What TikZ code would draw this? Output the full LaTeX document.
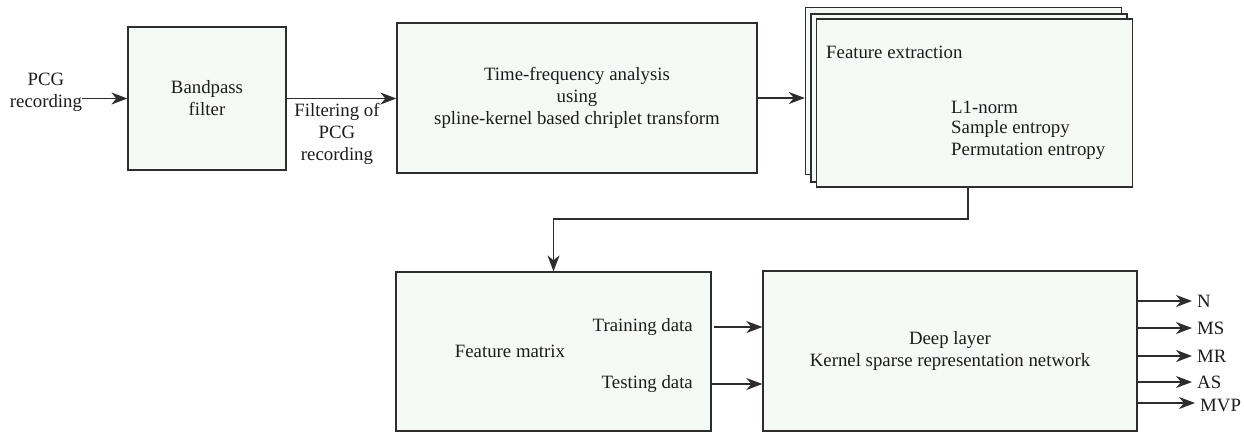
\documentclass[tikz,border=0pt]{standalone}
\usepackage{fontspec}
\setmainfont{Liberation Serif}
\usetikzlibrary{arrows.meta}
\definecolor{boxfill}{RGB}{246,250,247}
\definecolor{boxline}{RGB}{45,45,45}
\definecolor{inktext}{RGB}{28,28,28}
\tikzset{
  blockbox/.style={draw=boxline, fill=boxfill, line width=1.3pt, inner sep=0pt,
    align=center, text=inktext},
  lbl/.style={inner sep=0pt, align=center, text=inktext},
  arr/.style={-{Stealth[length=16pt,width=12pt,inset=5pt]}, line width=1.3pt, draw=boxline},
  link/.style={line width=1.3pt, draw=boxline}
}
\begin{document}
\begin{tikzpicture}[x=1pt, y=-1pt, font=\fontsize{18.8}{22}\selectfont]
    \useasboundingbox (0,0) rectangle (1244,432);

    % first row
    \node[lbl] (pcg) at (46,92) {PCG\\recording};
    \node[blockbox, minimum width=158pt, minimum height=143pt] (bpf) at (207,98.5) {Bandpass\\filter};
    \node[blockbox, minimum width=360pt, minimum height=150pt] (tfa) at (577,98)
        {Time-frequency analysis\\using\\spline-kernel based chriplet transform};
    \node[lbl] (filt) at (337,134) {Filtering of\\PCG\\recording};

    % stacked feature extraction boxes
    \node[blockbox, minimum width=316pt, minimum height=167pt] (fextb) at (963.5,91) {};
    \node[blockbox, minimum width=316pt, minimum height=168pt] (fextm) at (969,98) {};
    \node[blockbox, minimum width=316pt, minimum height=168pt] (fext) at (974.5,103) {};
    \node[lbl, anchor=west] (fexttitle) at (826,52) {Feature extraction};
    \node[lbl, anchor=west] (l1) at (951,107) {L1-norm};
    \node[lbl, anchor=west] (sampen) at (951,129) {Sample entropy};
    \node[lbl, anchor=west] (permen) at (951,151) {Permutation entropy};

    % second row
    \node[blockbox, minimum width=315pt, minimum height=159pt] (fmat) at (553.5,351.5) {};
    \node[lbl] (fmattitle) at (510,351) {Feature matrix};
    \node[lbl, anchor=east] (train) at (693,327) {Training data};
    \node[lbl, anchor=east] (test) at (693,384) {Testing data};
    \node[blockbox, minimum width=374pt, minimum height=160pt] (deep) at (950,351)
        {Deep layer\\Kernel sparse representation network};

    % class labels
    \node[lbl, anchor=west] (cn) at (1197,301) {N};
    \node[lbl, anchor=west] (cms) at (1197,328) {MS};
    \node[lbl, anchor=west] (cmr) at (1197,356) {MR};
    \node[lbl, anchor=west] (cas) at (1197,382) {AS};
    \node[lbl, anchor=west] (cmvp) at (1200,405) {MVP};

    % connectors
    \draw[arr] (pcg.east |- bpf.west) -- (bpf.west);
    \draw[arr] (bpf.east) -- (bpf.east -| tfa.west);
    \draw[arr] (tfa.east) -- (tfa.east -| fextb.west);
    \coordinate (bend) at (553.5,219);
    \draw[arr] ([xshift=-6.5pt]fext.south) |- (bend) -- (fmat.north);
    \draw[arr] ([xshift=2pt]fmat.east |- train) -- (deep.west |- train);
    \draw[arr] (fmat.east |- test) -- (deep.west |- test);
    \foreach \cls/\yy in {cn/301, cms/328, cmr/356, cas/382, cmvp/403}
        \draw[arr] (deep.east |- 0,\yy) -- ([xshift=-5pt]\cls.west |- 0,\yy);
\end{tikzpicture}
\end{document}
